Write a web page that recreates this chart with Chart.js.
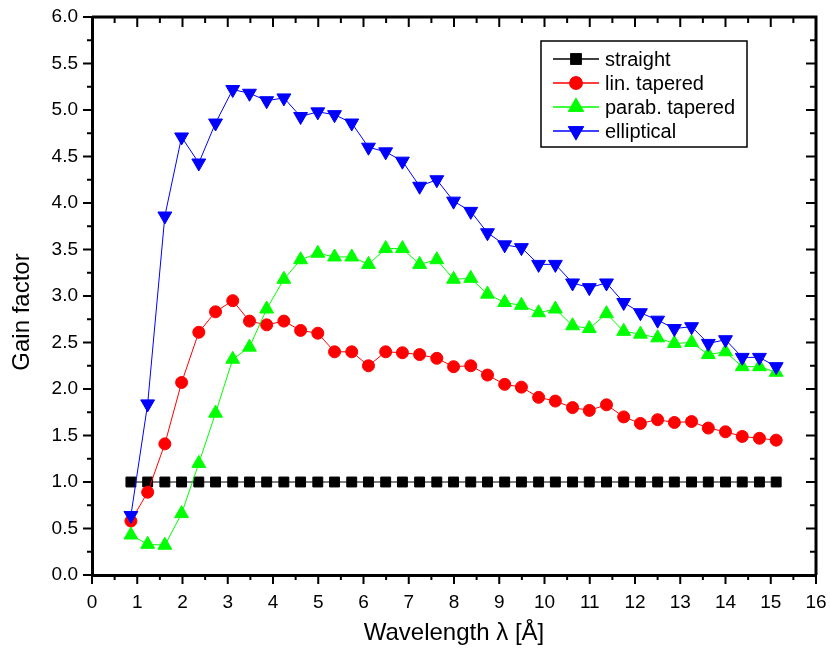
<!DOCTYPE html>
<html>
<head>
<meta charset="utf-8">
<script src="https://cdn.jsdelivr.net/npm/chart.js@4.4.0/dist/chart.umd.min.js"></script>
<style>
html, body { margin: 0; padding: 0; background: #fff; }
</style>
</head>
<body>
<canvas id="gainChart" width="830" height="654"></canvas>
<script>
// wavelength in Angstrom
const wavelength = [0.86, 1.23, 1.61, 1.98, 2.36, 2.73, 3.11, 3.48, 3.86, 4.24,
  4.61, 4.99, 5.36, 5.74, 6.11, 6.49, 6.86, 7.24, 7.62, 7.99,
  8.37, 8.74, 9.12, 9.49, 9.87, 10.24, 10.62, 10.99, 11.37, 11.75,
  12.12, 12.50, 12.87, 13.25, 13.62, 14.00, 14.37, 14.75, 15.12];

const straight = [1.0, 1.0, 1.0, 1.0, 1.0, 1.0, 1.0, 1.0, 1.0, 1.0,
  1.0, 1.0, 1.0, 1.0, 1.0, 1.0, 1.0, 1.0, 1.0, 1.0,
  1.0, 1.0, 1.0, 1.0, 1.0, 1.0, 1.0, 1.0, 1.0, 1.0,
  1.0, 1.0, 1.0, 1.0, 1.0, 1.0, 1.0, 1.0, 1.0];

const linTapered = [0.58, 0.89, 1.41, 2.07, 2.61, 2.83, 2.95, 2.73, 2.69, 2.73,
  2.63, 2.60, 2.40, 2.40, 2.25, 2.40, 2.39, 2.37, 2.33, 2.24,
  2.25, 2.15, 2.05, 2.02, 1.91, 1.87, 1.80, 1.77, 1.83, 1.70,
  1.63, 1.67, 1.64, 1.65, 1.58, 1.54, 1.49, 1.47, 1.45];

const parabTapered = [0.43, 0.33, 0.32, 0.66, 1.20, 1.74, 2.32, 2.45, 2.86, 3.18,
  3.39, 3.46, 3.42, 3.42, 3.34, 3.51, 3.51, 3.34, 3.39, 3.18,
  3.19, 3.02, 2.93, 2.90, 2.82, 2.86, 2.68, 2.65, 2.81, 2.62,
  2.59, 2.55, 2.49, 2.50, 2.37, 2.40, 2.24, 2.24, 2.18];

const elliptical = [0.64, 1.84, 3.86, 4.71, 4.43, 4.86, 5.22, 5.18, 5.10, 5.13,
  4.93, 4.98, 4.95, 4.86, 4.60, 4.55, 4.45, 4.18, 4.25, 4.02,
  3.91, 3.68, 3.55, 3.52, 3.34, 3.34, 3.14, 3.09, 3.14, 2.93,
  2.82, 2.74, 2.65, 2.67, 2.49, 2.53, 2.34, 2.34, 2.24];

const seriesNames = ['straight', 'lin. tapered', 'parab. tapered', 'elliptical'];
const yTitle = 'Gain factor';

const FONT = '"Liberation Sans", Arial, Helvetica, sans-serif';

function pts(ys) {
  return wavelength.map((x, i) => ({ x: x, y: ys[i] }));
}

// ticks on all four sides, inward on top/right, outward on bottom/left
const frameTicks = {
  id: 'frameTicks',
  afterDraw(chart) {
    const { ctx, chartArea: a } = chart;
    const x = chart.scales.x, y = chart.scales.y;
    ctx.save();
    ctx.strokeStyle = '#000';
    ctx.lineWidth = 3;
    ctx.beginPath();
    ctx.moveTo(a.left, a.top);
    ctx.lineTo(a.right, a.top);
    ctx.lineTo(a.right, a.bottom);
    ctx.stroke();

    ctx.lineWidth = 2;
    ctx.beginPath();
    for (let v = x.min; v <= x.max; v += 0.5) {
      const px = x.getPixelForValue(v);
      const len = v % 1 === 0 ? 9 : 5;
      ctx.moveTo(px, a.bottom);
      ctx.lineTo(px, a.bottom + len);
      ctx.moveTo(px, a.top);
      ctx.lineTo(px, a.top + len + 1);
    }
    for (let v = y.min; v <= y.max + 1e-9; v += 0.25) {
      const py = y.getPixelForValue(v);
      const major = Math.abs(v * 2 - Math.round(v * 2)) < 1e-6;
      const len = major ? 9 : 5;
      ctx.moveTo(a.left, py);
      ctx.lineTo(a.left - len, py);
      ctx.moveTo(a.right, py);
      ctx.lineTo(a.right - len - 1, py);
    }
    ctx.stroke();

    // y title sits a bit below the middle of the axis in the original
    ctx.translate(22, (a.top + a.bottom) / 2 + 16);
    ctx.rotate(-Math.PI / 2);
    ctx.fillStyle = '#000';
    ctx.font = '24px ' + FONT;
    ctx.textAlign = 'center';
    ctx.textBaseline = 'middle';
    ctx.fillText(yTitle, 0, 0);
    ctx.restore();
  }
};

// framed legend inside the plot, like the original
const boxLegend = {
  id: 'boxLegend',
  afterDraw(chart) {
    const ctx = chart.ctx;
    const L = 541, T = 41, W = 206, H = 106;
    ctx.save();
    ctx.fillStyle = '#fff';
    ctx.fillRect(L, T, W, H);
    ctx.strokeStyle = '#000';
    ctx.lineWidth = 1.5;
    ctx.strokeRect(L, T, W, H);
    ctx.font = '20px ' + FONT;
    ctx.textBaseline = 'middle';
    chart.data.datasets.forEach((ds, i) => {
      const cy = T + 18 + i * 24;
      ctx.strokeStyle = ds.borderColor;
      ctx.lineWidth = 1.5;
      ctx.beginPath();
      ctx.moveTo(L + 12, cy);
      ctx.lineTo(L + 58, cy);
      ctx.stroke();
      Chart.helpers.drawPoint(ctx, {
        pointStyle: ds.pointStyle,
        radius: ds.pointRadius,
        rotation: ds.pointRotation || 0,
        borderWidth: 1
      }, L + 35, cy);
      ctx.fillStyle = ds.backgroundColor;
      ctx.strokeStyle = ds.borderColor;
      ctx.fill();
      ctx.stroke();
      ctx.fillStyle = '#000';
      ctx.fillText(ds.label, L + 64, cy + 1);
    });
    ctx.restore();
  }
};

function series(label, ys, color, style, radius, rotation, order) {
  return {
    label: label,
    data: pts(ys),
    borderColor: color,
    backgroundColor: color,
    borderWidth: 1,
    pointStyle: style,
    pointRadius: radius,
    pointHoverRadius: radius,
    pointRotation: rotation,
    pointBorderWidth: 1,
    pointBorderColor: color,
    pointBackgroundColor: color,
    order: order
  };
}

function noPad(scale) {
  scale.paddingTop = 0;
  scale.paddingBottom = 0;
  scale.paddingLeft = 0;
  scale.paddingRight = 0;
}

new Chart(document.getElementById('gainChart'), {
  type: 'line',
  data: {
    datasets: [
      series(seriesNames[0], straight, '#000000', 'rect', 7, 0, 3),
      series(seriesNames[1], linTapered, '#ff0000', 'circle', 6, 0, 2),
      series(seriesNames[2], parabTapered, '#00ff00', 'triangle', 8, 0, 1),
      series(seriesNames[3], elliptical, '#0000ff', 'triangle', 8, 180, 0)
    ]
  },
  options: {
    responsive: false,
    animation: false,
    devicePixelRatio: 1,
    layout: { padding: { top: 17, right: 14, left: 0, bottom: 0 } },
    plugins: {
      legend: { display: false },
      tooltip: { enabled: false }
    },
    scales: {
      x: {
        type: 'linear',
        min: 0,
        max: 16,
        grid: { display: false, drawTicks: false },
        border: { display: true, color: '#000', width: 3 },
        ticks: {
          stepSize: 1,
          padding: 16,
          color: '#000',
          font: { family: FONT, size: 19 }
        },
        title: {
          display: true,
          text: 'Wavelength λ [Å]',
          color: '#000',
          font: { family: FONT, size: 24 },
          padding: { top: 0, bottom: 6 }
        },
        afterFit(scale) { scale.height = 79; noPad(scale); }
      },
      y: {
        min: 0,
        max: 6,
        grid: { display: false, drawTicks: false },
        border: { display: true, color: '#000', width: 3 },
        ticks: {
          stepSize: 0.5,
          padding: 14,
          color: '#000',
          font: { family: FONT, size: 19 },
          callback: (v) => v.toFixed(1)
        },
        title: { display: false },
        afterFit(scale) { scale.width = 92; noPad(scale); }
      }
    }
  },
  plugins: [frameTicks, boxLegend]
});
</script>
</body>
</html>
